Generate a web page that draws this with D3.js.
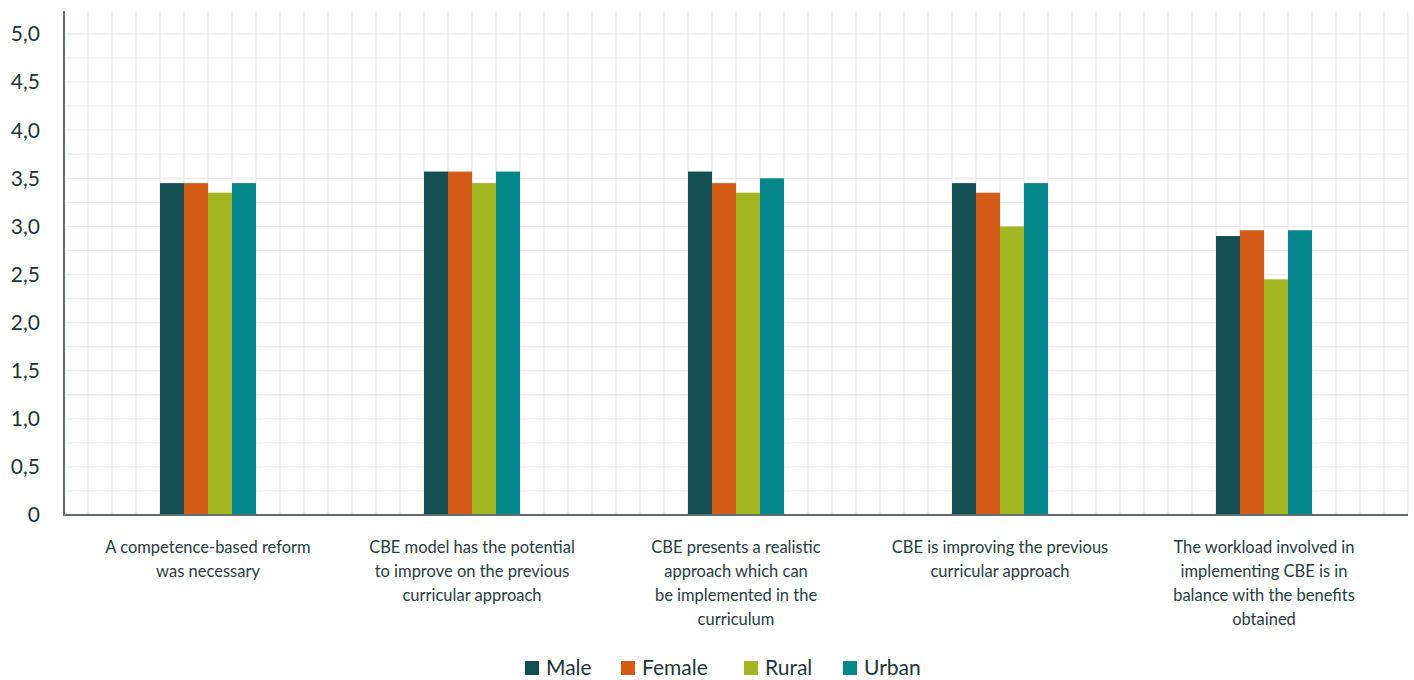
<!DOCTYPE html>
<html><head><meta charset="utf-8">
<script src="https://cdn.jsdelivr.net/npm/d3@7"></script>
<style>body{margin:0;background:#fff;} text{font-family:"Source Sans Pro",Lato,"Noto Sans",sans-serif;}</style>
</head><body><svg id="c" width="1414" height="680"></svg>
<script>
const categories = [
  ["A competence-based reform","was necessary"],
  ["CBE model has the potential","to improve on the previous","curricular approach"],
  ["CBE presents a realistic","approach which can","be implemented in the","curriculum"],
  ["CBE is improving the previous","curricular approach"],
  ["The workload involved in","implementing CBE is in","balance with the benefits","obtained"]
];
const seriesNames = ["Male","Female","Rural","Urban"];
const seriesColors = ["#134f52","#d55c16","#a2b621","#03878a"];
const male   = [3.45, 3.57, 3.57, 3.45, 2.90];
const female = [3.45, 3.57, 3.45, 3.35, 2.96];
const rural  = [3.35, 3.45, 3.35, 3.00, 2.45];
const urban  = [3.45, 3.57, 3.50, 3.45, 2.96];
const yTicks = [0,0.5,1,1.5,2,2.5,3,3.5,4,4.5,5];

const series = [male, female, rural, urban];
const svg = d3.select("#c");
const L = 64, R = 1408, B = 515, T = 11;
const y = d3.scaleLinear().domain([0, 5.25]).range([B, B - 5.25*96.2]);
const x = d3.scaleBand().domain(d3.range(categories.length)).range([L+12, R-12]);
const xs = d3.scaleBand().domain(d3.range(series.length)).range([0, 96]);
const gx = d3.scaleLinear().domain([0,56]).range([L,R]);

// grid
const grid = svg.append("g");
grid.selectAll("line.h").data(d3.range(1,21).map(i=>i*0.25)).join("line")
  .attr("x1",L).attr("x2",R).attr("y1",d=>y(d)).attr("y2",d=>y(d))
  .attr("stroke","#ececec").attr("stroke-width",1.3);
grid.selectAll("line.v").data(d3.range(1,57)).join("line")
  .attr("x1",d=>gx(d)).attr("x2",d=>gx(d)).attr("y1",T).attr("y2",B)
  .attr("stroke","#ececec").attr("stroke-width",1.3);

// bars
categories.forEach((c,i)=>{
  const cx = x(i) + x.bandwidth()/2 - 48;
  series.forEach((s,j)=>{
    svg.append("rect").attr("x",cx+xs(j)).attr("width",xs.bandwidth())
      .attr("y",y(s[i])).attr("height",y(0)-y(s[i])).attr("fill",seriesColors[j]);
  });
});

// axes
svg.append("line").attr("x1",L).attr("x2",L).attr("y1",T).attr("y2",B+1).attr("stroke","#5f6e6e").attr("stroke-width",2);
svg.append("line").attr("x1",L-1).attr("x2",R).attr("y1",B).attr("y2",B).attr("stroke","#5f6e6e").attr("stroke-width",2);

svg.append("g").selectAll("text").data(yTicks).join("text")
  .attr("x",40).attr("y",d=>y(d)).attr("dy","0.35em").attr("text-anchor","end")
  .attr("font-size",21).attr("fill","#1d3536")
  .text(d=> d===0 ? "0" : d.toFixed(1).replace(".",","));

// x labels
categories.forEach((c,i)=>{
  const t = svg.append("text").attr("text-anchor","middle").attr("font-size",16.5).attr("fill","#263c3d");
  c.forEach((ln,k)=>{
    t.append("tspan").attr("x",x(i)+x.bandwidth()/2).attr("y",553+k*24).text(ln);
  });
});

// legend
const lg = svg.append("g");
const legX = [525, 621, 744, 843];
seriesNames.forEach((n,j)=>{
  lg.append("rect").attr("x",legX[j]).attr("y",661).attr("width",14).attr("height",14).attr("fill",seriesColors[j]);
  lg.append("text").attr("x",legX[j]+21).attr("y",675).attr("font-size",21).attr("fill","#1d3536").text(n);
});
</script></body></html>
